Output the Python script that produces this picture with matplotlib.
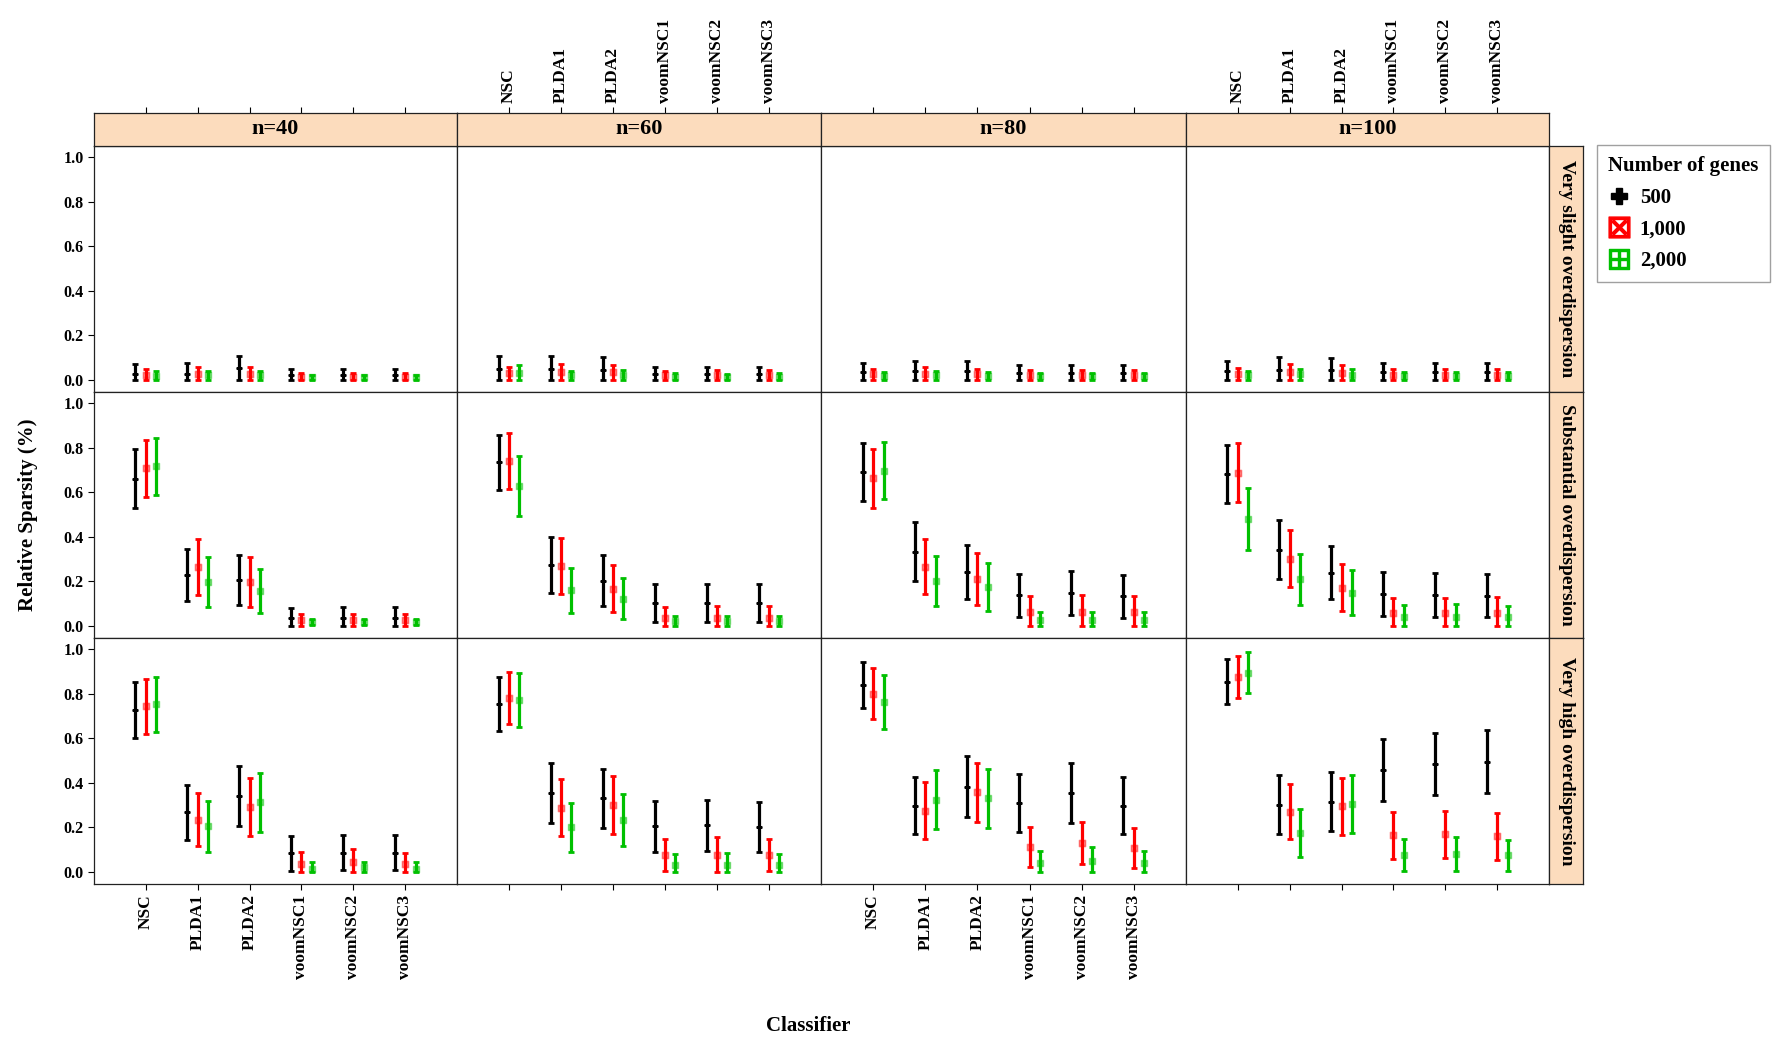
import matplotlib
matplotlib.use("Agg")
import matplotlib.pyplot as plt
from matplotlib.lines import Line2D
import numpy as np

# classifiers / panels
classifiers = ["NSC", "PLDA1", "PLDA2", "voomNSC1", "voomNSC2", "voomNSC3"]
sample_sizes = ["n=40", "n=60", "n=80", "n=100"]
dispersions = ["Very slight overdispersion", "Substantial overdispersion", "Very high overdispersion"]
genes = ["500", "1,000", "2,000"]

# values: one row per n (40, 60, 80, 100), one column per classifier
# mean relative sparsity and half width of the interval

# very slight overdispersion
slight_500_mean = [[0.026, 0.027, 0.053, 0.021, 0.021, 0.021],
                   [0.048, 0.048, 0.043, 0.025, 0.025, 0.025],
                   [0.035, 0.040, 0.040, 0.030, 0.030, 0.030],
                   [0.040, 0.045, 0.045, 0.035, 0.035, 0.035]]
slight_500_hw = [[0.046, 0.048, 0.055, 0.027, 0.027, 0.027],
                 [0.060, 0.060, 0.060, 0.033, 0.033, 0.033],
                 [0.040, 0.045, 0.045, 0.035, 0.035, 0.035],
                 [0.045, 0.060, 0.055, 0.040, 0.040, 0.040]]
slight_1000_mean = [[0.020, 0.025, 0.025, 0.015, 0.015, 0.015],
                    [0.030, 0.035, 0.034, 0.020, 0.022, 0.022],
                    [0.025, 0.028, 0.025, 0.022, 0.022, 0.022],
                    [0.025, 0.035, 0.033, 0.024, 0.024, 0.024]]
slight_1000_hw = [[0.028, 0.031, 0.031, 0.018, 0.018, 0.018],
                  [0.030, 0.035, 0.033, 0.020, 0.021, 0.021],
                  [0.025, 0.028, 0.025, 0.022, 0.022, 0.022],
                  [0.027, 0.035, 0.034, 0.024, 0.024, 0.024]]
slight_2000_mean = [[0.018, 0.020, 0.020, 0.012, 0.012, 0.012],
                    [0.033, 0.020, 0.022, 0.015, 0.014, 0.015],
                    [0.018, 0.020, 0.018, 0.016, 0.016, 0.016],
                    [0.020, 0.025, 0.024, 0.018, 0.018, 0.018]]
slight_2000_hw = [[0.020, 0.020, 0.020, 0.012, 0.012, 0.012],
                  [0.033, 0.020, 0.021, 0.015, 0.014, 0.016],
                  [0.018, 0.020, 0.018, 0.016, 0.016, 0.016],
                  [0.020, 0.026, 0.024, 0.019, 0.019, 0.019]]

# substantial overdispersion
subst_500_mean = [[0.661, 0.229, 0.206, 0.034, 0.034, 0.034],
                  [0.733, 0.272, 0.203, 0.103, 0.103, 0.103],
                  [0.689, 0.332, 0.242, 0.138, 0.148, 0.133],
                  [0.682, 0.341, 0.239, 0.144, 0.139, 0.135]]
subst_500_hw = [[0.133, 0.118, 0.114, 0.048, 0.050, 0.050],
                [0.124, 0.126, 0.114, 0.086, 0.086, 0.086],
                [0.130, 0.132, 0.120, 0.097, 0.098, 0.096],
                [0.130, 0.132, 0.118, 0.098, 0.097, 0.097]]
subst_1000_mean = [[0.706, 0.266, 0.199, 0.027, 0.027, 0.027],
                   [0.739, 0.269, 0.167, 0.036, 0.036, 0.036],
                   [0.662, 0.265, 0.212, 0.064, 0.064, 0.064],
                   [0.688, 0.301, 0.172, 0.060, 0.060, 0.060]]
subst_1000_hw = [[0.127, 0.126, 0.112, 0.028, 0.028, 0.028],
                 [0.124, 0.125, 0.105, 0.050, 0.052, 0.052],
                 [0.131, 0.123, 0.116, 0.072, 0.076, 0.070],
                 [0.131, 0.128, 0.107, 0.067, 0.067, 0.072]]
subst_2000_mean = [[0.715, 0.199, 0.156, 0.018, 0.018, 0.018],
                   [0.628, 0.159, 0.123, 0.021, 0.021, 0.021],
                   [0.697, 0.203, 0.176, 0.027, 0.025, 0.025],
                   [0.481, 0.209, 0.150, 0.042, 0.042, 0.039]]
subst_2000_hw = [[0.127, 0.112, 0.100, 0.015, 0.015, 0.015],
                 [0.135, 0.101, 0.092, 0.025, 0.025, 0.025],
                 [0.130, 0.112, 0.108, 0.034, 0.036, 0.036],
                 [0.139, 0.115, 0.100, 0.052, 0.055, 0.051]]

# very high overdispersion
high_500_mean = [[0.726, 0.267, 0.341, 0.084, 0.087, 0.087],
                 [0.755, 0.354, 0.330, 0.204, 0.209, 0.200],
                 [0.838, 0.296, 0.383, 0.308, 0.353, 0.296],
                 [0.853, 0.302, 0.315, 0.455, 0.485, 0.495]]
high_500_hw = [[0.126, 0.125, 0.133, 0.078, 0.080, 0.078],
               [0.121, 0.133, 0.132, 0.115, 0.115, 0.112],
               [0.105, 0.128, 0.136, 0.130, 0.135, 0.128],
               [0.101, 0.131, 0.131, 0.139, 0.140, 0.141]]
high_1000_mean = [[0.743, 0.234, 0.293, 0.036, 0.045, 0.035],
                  [0.780, 0.287, 0.299, 0.075, 0.077, 0.075],
                  [0.800, 0.275, 0.357, 0.113, 0.129, 0.107],
                  [0.874, 0.270, 0.294, 0.164, 0.168, 0.159]]
high_1000_hw = [[0.124, 0.118, 0.130, 0.054, 0.057, 0.049],
                [0.118, 0.128, 0.130, 0.072, 0.079, 0.072],
                [0.113, 0.127, 0.133, 0.090, 0.093, 0.088],
                [0.096, 0.123, 0.129, 0.105, 0.105, 0.105]]
high_2000_mean = [[0.752, 0.204, 0.312, 0.015, 0.020, 0.015],
                  [0.770, 0.200, 0.234, 0.032, 0.033, 0.032],
                  [0.762, 0.324, 0.330, 0.041, 0.047, 0.038],
                  [0.893, 0.173, 0.305, 0.077, 0.080, 0.075]]
high_2000_hw = [[0.124, 0.116, 0.131, 0.030, 0.025, 0.030],
                [0.120, 0.110, 0.116, 0.048, 0.051, 0.048],
                [0.120, 0.132, 0.132, 0.055, 0.063, 0.057],
                [0.092, 0.108, 0.130, 0.073, 0.076, 0.069]]

data = {
    0: [(slight_500_mean, slight_500_hw), (slight_1000_mean, slight_1000_hw), (slight_2000_mean, slight_2000_hw)],
    1: [(subst_500_mean, subst_500_hw), (subst_1000_mean, subst_1000_hw), (subst_2000_mean, subst_2000_hw)],
    2: [(high_500_mean, high_500_hw), (high_1000_mean, high_1000_hw), (high_2000_mean, high_2000_hw)],
}

colors = ["black", "#ff0000", "#00c000"]
markers = ["P", r"$\boxtimes$", r"$\boxplus$"]
offsets = [-0.2, 0.0, 0.2]

FONT = "Liberation Serif"
STRIP = "#fcdcbd"

W, H = 1778, 1041
fig = plt.figure(figsize=(W / 100, H / 100), dpi=100)

# panel layout in pixels
col_edges = [94, 457, 821, 1186, 1549]
row_edges = [146, 392, 638, 884]
strip_top = 113
strip_right = 1583


def fx(px):
    return px / W


def fy(py):
    return 1 - py / H


x = np.arange(1, 7)
for r in range(3):
    for c in range(4):
        x0, x1 = col_edges[c], col_edges[c + 1]
        y0, y1 = row_edges[r], row_edges[r + 1]
        ax = fig.add_axes([fx(x0), fy(y1), fx(x1 - x0), (y1 - y0) / H])
        for g in range(3):
            mean = np.array(data[r][g][0][c])
            hw = np.array(data[r][g][1][c])
            lo = np.minimum(hw, mean)  # interval is cut at 0
            ax.errorbar(x + offsets[g], mean, yerr=[lo, hw], fmt="none",
                        ecolor=colors[g], elinewidth=2.3, capsize=2.2, capthick=2)
            ax.plot(x + offsets[g], mean, linestyle="none", marker=markers[g],
                    color=colors[g], markersize=3.5 if g == 0 else 4.5,
                    alpha=1 if g == 0 else 0.45)
        ax.set_xlim(0, 7)
        ax.set_ylim(-0.054, 1.049)
        ax.set_xticks(x)
        ax.set_yticks([0, 0.2, 0.4, 0.6, 0.8, 1.0])
        for s in ax.spines.values():
            s.set_linewidth(0.9)
            s.set_color("#222222")
        ax.tick_params(axis="x", top=False, bottom=(r == 2), labelbottom=(r == 2 and c in (0, 2)),
                       direction="out", length=4)
        ax.tick_params(axis="y", left=(c == 0), labelleft=(c == 0), right=False,
                       direction="out", length=4)
        if r == 2:
            ax.set_xticklabels(classifiers, rotation=90, fontsize=12.5,
                               fontweight="bold", family=FONT)
        if c == 0:
            ax.set_yticklabels(["0.0", "0.2", "0.4", "0.6", "0.8", "1.0"],
                               fontsize=11.5, fontweight="bold", family=FONT)

        # strip on the right of each row
        if c == 3:
            sax = fig.add_axes([fx(x1), fy(y1), fx(strip_right - x1), (y1 - y0) / H])
            sax.set_facecolor(STRIP)
            sax.set_xticks([])
            sax.set_yticks([])
            for s in sax.spines.values():
                s.set_linewidth(0.9)
                s.set_color("#222222")
            sax.text(0.5, 0.5, dispersions[r], rotation=270, ha="center", va="center",
                     fontsize=14, fontweight="bold", family=FONT, transform=sax.transAxes)

# strips on top with n labels
for c in range(4):
    x0, x1 = col_edges[c], col_edges[c + 1]
    tax = fig.add_axes([fx(x0), fy(row_edges[0]), fx(x1 - x0), (row_edges[0] - strip_top) / H])
    tax.set_facecolor(STRIP)
    tax.set_xlim(0, 7)
    tax.set_ylim(0, 1)
    tax.set_yticks([])
    tax.set_xticks(x)
    tax.xaxis.tick_top()
    tax.tick_params(axis="x", top=True, bottom=False, labeltop=(c in (1, 3)),
                    labelbottom=False, direction="out", length=4)
    tax.set_xticklabels(classifiers, rotation=90, fontsize=12.5, fontweight="bold", family=FONT)
    for s in tax.spines.values():
        s.set_linewidth(0.9)
        s.set_color("#222222")
    tax.text(0.5, 0.5, sample_sizes[c], ha="center", va="center", fontsize=16,
             fontweight="bold", family=FONT, transform=tax.transAxes)

# axis titles
fig.text(fx(28), fy((row_edges[0] + row_edges[-1]) / 2), "Relative Sparsity (%)", rotation=90,
         ha="center", va="center", fontsize=15, fontweight="bold", family=FONT)
fig.text(fx(808), fy(1026), "Classifier", ha="center", va="center", fontsize=15,
         fontweight="bold", family=FONT)

# legend
handles = [Line2D([], [], linestyle="none", marker=markers[i], color=colors[i],
                  markersize=11 if i == 0 else 15) for i in range(3)]
leg = fig.legend(handles, genes, title="Number of genes", loc="upper left",
                 bbox_to_anchor=(fx(1597), fy(145)), borderaxespad=0, frameon=True,
                 fancybox=False, handlelength=1.0, handletextpad=0.5, labelspacing=0.55,
                 borderpad=0.55, prop={"family": FONT, "weight": "bold", "size": 15},
                 title_fontproperties={"family": FONT, "weight": "bold", "size": 15},
                 alignment="left")
leg.get_frame().set_edgecolor("#888888")
leg.get_frame().set_linewidth(1.0)

plt.savefig("out.png", dpi=100)
